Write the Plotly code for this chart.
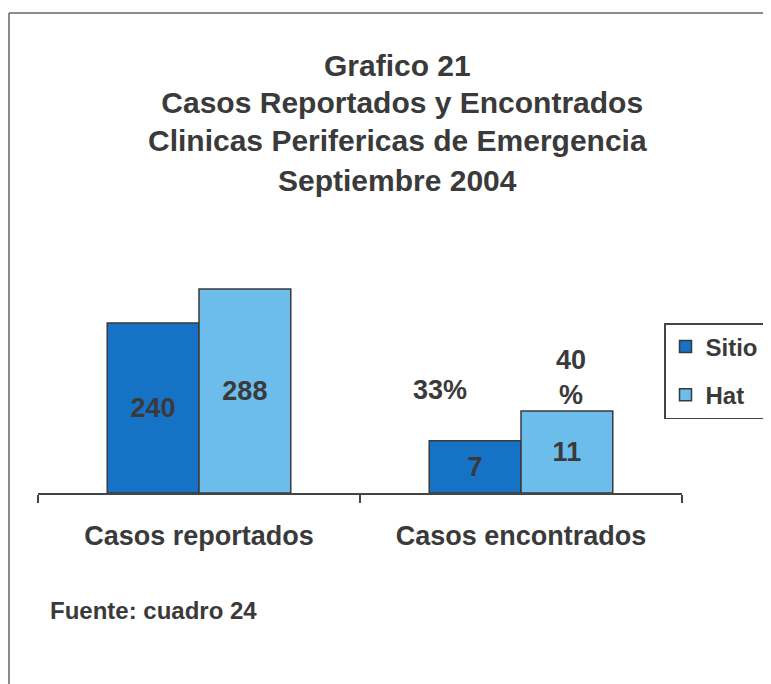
import plotly.graph_objects as go

# ---- data ----
categories = ["Casos reportados", "Casos encontrados"]
series_names = ["Sitio", "Hat"]
sitio = [240, 7]
hat = [288, 11]
pct_labels = ["33%", "40<br>%"]
title_lines = ["Grafico 21", " Casos Reportados y Encontrados",
               "Clinicas Perifericas de Emergencia", "Septiembre 2004"]
source_note = "Fuente: cuadro 24"

# ---- layout geometry (page pixels; the page body adds an 8px offset) ----
OFF = 8
W, H = 771, 684
PL, PR = 38 - OFF, 682 - OFF      # plot area left/right
PT, PB = 250 - OFF, 493 - OFF     # plot area top/bottom

def px(xp):
    return (xp - OFF - PL) / (PR - PL)

def py(yp):
    return (PB - (yp - OFF)) / (PB - PT)

FONT = "Liberation Sans, Arial, sans-serif"
TXT = "#3a3a3a"
C_SITIO = "#1572c4"
C_HAT = "#6cbcec"
EDGE = "#3a3a3a"

fig = go.Figure()
colors = [C_SITIO, C_HAT]
vals = [sitio, hat]
for i, name in enumerate(series_names):
    for j, cat in enumerate(categories):
        fig.add_trace(go.Bar(
            x=[cat], y=[vals[i][j]], name=name,
            yaxis="y" if j == 0 else "y2",
            marker=dict(color=colors[i], line=dict(color=EDGE, width=1.5)),
            text=[str(vals[i][j])], textposition="inside",
            insidetextanchor="middle",
            textfont=dict(family=FONT, size=27, color=TXT, weight="bold"),
            alignmentgroup="g", offsetgroup=name,
            legendgroup=name, showlegend=(j == 0),
        ))

annotations = []
title_y = [65, 102, 140, 180]
for t, yy in zip(title_lines, title_y):
    annotations.append(dict(text=t, xref="paper", yref="paper", x=px(398), y=py(yy),
                            xanchor="center", yanchor="middle", showarrow=False,
                            font=dict(family=FONT, size=30, color=TXT, weight="bold")))
annotations.append(dict(text=pct_labels[0], xref="paper", yref="paper", x=px(440), y=py(390),
                        xanchor="center", yanchor="middle", showarrow=False,
                        font=dict(family=FONT, size=27, color=TXT, weight="bold")))
annotations.append(dict(text=pct_labels[1], xref="paper", yref="paper", x=px(571), y=py(377),
                        xanchor="center", yanchor="middle", showarrow=False,
                        font=dict(family=FONT, size=27, color=TXT, weight="bold")))
annotations.append(dict(text=source_note, xref="paper", yref="paper", x=px(48), y=py(610),
                        xanchor="left", yanchor="middle", showarrow=False,
                        font=dict(family=FONT, size=24, color=TXT, weight="bold")))

shapes = [
    dict(type="line", xref="paper", yref="paper", x0=px(9), x1=px(780), y0=py(13), y1=py(13),
         line=dict(color="#666", width=1.5)),
    dict(type="line", xref="paper", yref="paper", x0=px(9), x1=px(9), y0=py(13), y1=py(700),
         line=dict(color="#666", width=1.5)),
]

fig.update_layout(
    width=W, height=H,
    margin=dict(l=PL, r=W - PR, t=PT, b=H - PB, pad=0, autoexpand=False),
    paper_bgcolor="white", plot_bgcolor="white",
    barmode="group", bargap=0.43, bargroupgap=0,
    font=dict(family=FONT, color=TXT),
    xaxis=dict(categoryorder="array", categoryarray=categories,
               showline=True, linecolor="#444", linewidth=1.5,
               ticks="outside", tickson="boundaries", ticklen=8, tickcolor="#444", tickwidth=1.5,
               ticklabelstandoff=18,
               tickfont=dict(family=FONT, size=27, color=TXT, weight="bold"),
               showgrid=False, zeroline=False),
    yaxis=dict(range=[0, 343], visible=False, showgrid=False, zeroline=False),
    yaxis2=dict(range=[0, 32.6], overlaying="y", visible=False, showgrid=False, zeroline=False),
    legend=dict(x=px(664), y=py(323), xanchor="left", yanchor="top",
                bordercolor="#444", borderwidth=1.5, bgcolor="white",
                font=dict(family=FONT, size=24, color=TXT, weight="bold"),
                traceorder="grouped", tracegroupgap=14, itemwidth=30),
    annotations=annotations,
    shapes=shapes,
)

fig.write_html("out.html")
